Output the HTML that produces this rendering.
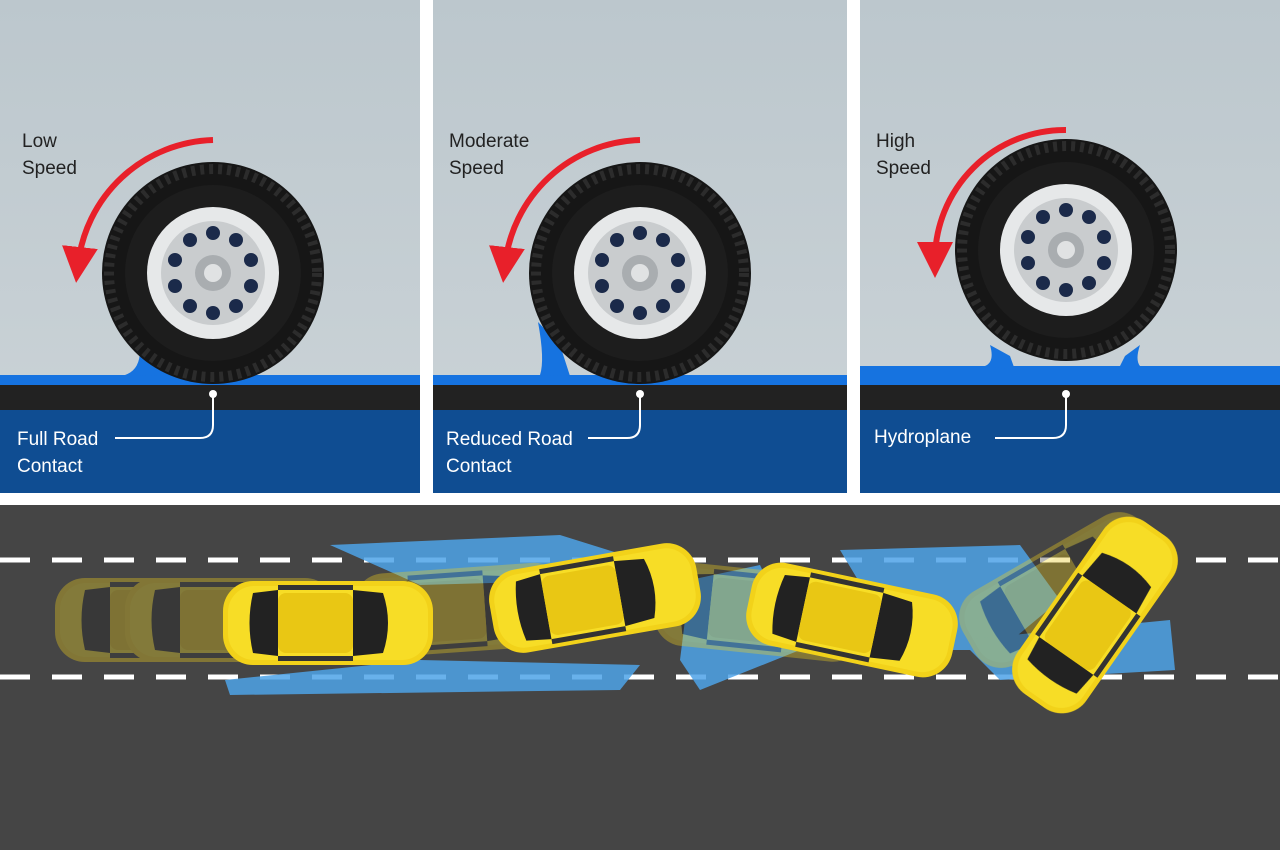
<!DOCTYPE html>
<html><head><meta charset="utf-8"><style>
html,body{margin:0;padding:0;background:#fff;width:1280px;height:850px;overflow:hidden}
svg{display:block}
text{font-family:"Liberation Sans",sans-serif}
</style></head><body>
<svg width="1280" height="850" viewBox="0 0 1280 850" xmlns="http://www.w3.org/2000/svg">
<defs>
<linearGradient id="sky" x1="0" y1="0" x2="0" y2="1"><stop offset="0" stop-color="#bcc7cd"/><stop offset="1" stop-color="#ccd4d8"/></linearGradient>
<marker id="ah" markerWidth="6" markerHeight="6" refX="3" refY="3" orient="auto"><path d="M0,0 L6,3 L0,6 z" fill="#e8202a"/></marker>
<g id="tire">
  <circle r="111" fill="#161616"/>
  <circle r="104" fill="none" stroke="#2c2c2c" stroke-width="10" stroke-dasharray="4 5"/>
  <circle r="88" fill="#1d1d1d"/>
  <circle r="66" fill="#e6e8e9"/>
  <circle r="52" fill="#c9ccce"/>
  <g fill="#1b2a4a">
    <circle cx="0" cy="-40" r="7"/><circle cx="23" cy="-33" r="7"/><circle cx="38" cy="-13" r="7"/><circle cx="38" cy="13" r="7"/><circle cx="23" cy="33" r="7"/><circle cx="0" cy="40" r="7"/><circle cx="-23" cy="33" r="7"/><circle cx="-38" cy="13" r="7"/><circle cx="-38" cy="-13" r="7"/><circle cx="-23" cy="-33" r="7"/>
  </g>
  <circle r="18" fill="#a9adb0"/><circle r="9" fill="#e0e2e3"/>
</g>
<g id="car">
  <rect x="-105" y="-42" width="210" height="84" rx="30" fill="#f2d21a"/>
  <rect x="-100" y="-37" width="200" height="74" rx="26" fill="#f7dd26"/>
  <path d="M-75,-30 L-50,-33 L-50,33 L-75,30 Q-82,0 -75,-30z" fill="#222"/>
  <path d="M25,-33 L55,-30 Q65,0 55,30 L25,33z" fill="#222"/>
  <rect x="-50" y="-30" width="75" height="60" rx="8" fill="#e9c714"/>
  <rect x="-50" y="-38" width="75" height="5" fill="#333"/>
  <rect x="-50" y="33" width="75" height="5" fill="#333"/>
</g>
</defs>
<!-- top panels -->
<g>
  <rect x="0" y="0" width="420" height="493" fill="url(#sky)"/>
  <rect x="433" y="0" width="414" height="493" fill="url(#sky)"/>
  <rect x="860" y="0" width="420" height="493" fill="url(#sky)"/>
  <g fill="#0f4d92"><rect x="0" y="410" width="420" height="83"/><rect x="433" y="410" width="414" height="83"/><rect x="860" y="410" width="420" height="83"/></g>
  <g fill="#222"><rect x="0" y="385" width="420" height="25"/><rect x="433" y="385" width="414" height="25"/><rect x="860" y="385" width="420" height="25"/></g>
  <g fill="#1673e0"><rect x="0" y="375" width="420" height="10"/><rect x="433" y="375" width="414" height="10"/><rect x="860" y="366" width="420" height="19"/></g>
  <path d="M125,375 Q140,370 140,350 L160,360 L170,376z" fill="#1673e0"/>
  <path d="M540,375 Q545,360 538,322 L560,345 L570,376z" fill="#1673e0"/>
  <path d="M985,366 Q995,362 990,345 L1010,356 L1015,370z M1140,366 Q1135,360 1140,345 L1125,356 L1118,370z" fill="#1673e0"/>
</g>
<use href="#tire" x="213" y="273"/>
<use href="#tire" x="640" y="273"/>
<use href="#tire" x="1066" y="250"/>
<!-- arrows -->
<g fill="none" stroke="#e8202a" stroke-width="6">
  <path d="M213,140 A140,140 0 0 0 78,265" marker-end="url(#ah)"/>
  <path d="M640,140 A140,140 0 0 0 505,265" marker-end="url(#ah)"/>
  <path d="M1066,130 A130,130 0 0 0 935,260" marker-end="url(#ah)"/>
</g>
<g font-size="19" fill="#222">
  <text x="22" y="147">Low</text><text x="22" y="174">Speed</text>
  <text x="449" y="147">Moderate</text><text x="449" y="174">Speed</text>
  <text x="876" y="147">High</text><text x="876" y="174">Speed</text>
</g>
<g font-size="19" fill="#fff">
  <text x="17" y="445">Full Road</text><text x="17" y="472">Contact</text>
  <text x="446" y="445">Reduced Road</text><text x="446" y="472">Contact</text>
  <text x="874" y="443">Hydroplane</text>
</g>
<g fill="none" stroke="#fff" stroke-width="2">
  <path d="M115,438 H200 Q213,438 213,425 V396"/>
  <path d="M588,438 H627 Q640,438 640,425 V396"/>
  <path d="M995,438 H1053 Q1066,438 1066,425 V396"/>
</g>
<g fill="#fff"><circle cx="213" cy="394" r="4"/><circle cx="640" cy="394" r="4"/><circle cx="1066" cy="394" r="4"/></g>
<!-- bottom road -->
<rect x="0" y="505" width="1280" height="345" fill="#454545"/>
<g stroke="#fff" stroke-width="5" stroke-dasharray="30 22">
  <line x1="0" y1="560" x2="1280" y2="560"/><line x1="0" y1="677" x2="1280" y2="677"/>
</g>
<g fill="#4ea3e8" opacity="0.85">
  <path d="M330,545 L560,535 L640,560 L600,580 L420,585 Z"/>
  <path d="M225,680 L420,660 L640,665 L620,690 L230,695 Z"/>
  <path d="M690,580 L760,565 L800,650 L700,690 L680,660 Z"/>
  <path d="M840,550 L1020,545 L1060,600 L1000,650 L900,650 Z"/>
  <path d="M960,640 L1170,620 L1175,670 L1000,680 Z"/>
</g>
<g opacity="0.35">
  <use href="#car" transform="translate(160,620)"/>
  <use href="#car" transform="translate(230,620)"/>
  <use href="#car" transform="translate(460,610) rotate(-4)"/>
  <use href="#car" transform="translate(760,612) rotate(6)"/>
  <use href="#car" transform="translate(1060,590) rotate(-30)"/>
</g>
<use href="#car" transform="translate(328,623)"/>
<use href="#car" transform="translate(595,598) rotate(-10)"/>
<use href="#car" transform="translate(852,620) rotate(12)"/>
<use href="#car" transform="translate(1095,615) rotate(-55)"/>
</svg>
</body></html>
